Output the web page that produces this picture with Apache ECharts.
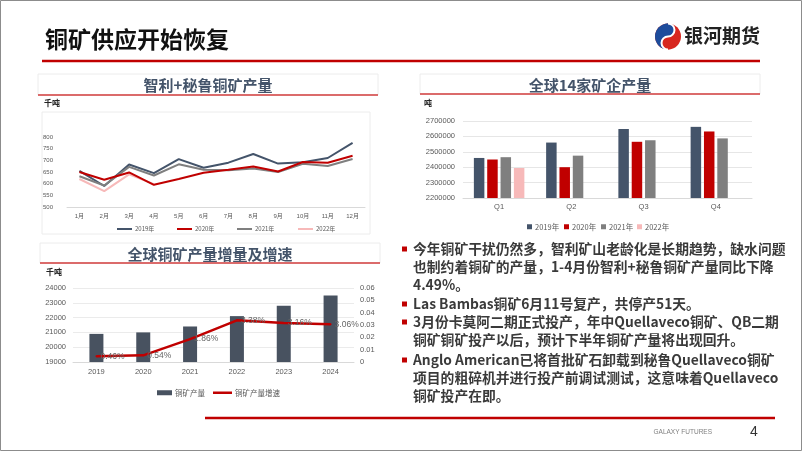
<!DOCTYPE html>
<html>
<head>
<meta charset="utf-8">
<script src="https://cdn.jsdelivr.net/npm/echarts@6/dist/echarts.min.js"></script>
<style>
html, body { margin: 0; padding: 0; background: #fff; }
#main { width: 802px; height: 451px; }
</style>
</head>
<body>
<div id="main"></div>
<script>
// 智利+秘鲁铜矿产量（千吨）
var months = ['1月', '2月', '3月', '4月', '5月', '6月', '7月', '8月', '9月', '10月', '11月', '12月']
var cp2019 = [655, 590, 682, 645, 705, 668, 690, 727, 686, 692, 710, 775]
var cp2020 = [650, 617, 648, 595, 620, 647, 660, 674, 652, 693, 690, 720]
var cp2021 = [632, 592, 672, 635, 683, 660, 657, 665, 650, 685, 676, 706]
var cp2022 = [620, 568, 640, 598]

// 全球14家矿企产量（吨）
var quarters = ['Q1', 'Q2', 'Q3', 'Q4']
var mine2019 = [2460000, 2560000, 2648000, 2662000]
var mine2020 = [2450000, 2400000, 2565000, 2632000]
var mine2021 = [2465000, 2475000, 2575000, 2587000]
var mine2022 = [2395000, null, null, null]

// 全球铜矿产量增量及增速
var years = ['2019', '2020', '2021', '2022', '2023', '2024']
var globalOutput = [20900, 21000, 21400, 22100, 22800, 23500]
var globalGrowth = [0.0046, 0.0054, 0.0186, 0.0338, 0.0316, 0.0306]

var bulletLines = [
  { text: '今年铜矿干扰仍然多，智利矿山老龄化是长期趋势，缺水问题', bullet: true },
  { text: '也制约着铜矿的产量，1-4月份智利+秘鲁铜矿产量同比下降', bullet: false },
  { text: '4.49%。', bullet: false },
  { text: 'Las Bambas铜矿6月11号复产，共停产51天。', bullet: true },
  { text: '3月份卡莫阿二期正式投产，年中Quellaveco铜矿、QB二期', bullet: true },
  { text: '铜矿铜矿投产以后，预计下半年铜矿产量将出现回升。', bullet: false },
  { text: 'Anglo American已将首批矿石卸载到秘鲁Quellaveco铜矿', bullet: true },
  { text: '项目的粗碎机并进行投产前调试测试，这意味着Quellaveco', bullet: false },
  { text: '铜矿投产在即。', bullet: false }
]
var bulletY = [249, 267, 285, 304, 322, 340, 360, 378, 396]

var FONT = '"Liberation Sans", "Noto Sans CJK SC", sans-serif'
var CJK = '"Noto Sans CJK SC", sans-serif'
var SLATE = '#44546A'
var RED = '#C00000'
var GREY = '#7F7F7F'
var PINK = '#F7B9B9'
var LABEL = '#595959'

function txt (x, y, s, font, fill, align, valign) {
  return {
    type: 'text',
    silent: true,
    style: {
      text: s, x: x, y: y, font: font, fill: fill,
      textAlign: align || 'left', textVerticalAlign: valign || 'middle'
    }
  }
}
function hline (x1, x2, y, color, w) {
  return { type: 'line', silent: true, shape: { x1: x1, y1: y, x2: x2, y2: y }, style: { stroke: color, lineWidth: w } }
}
function titleBox (x1, x2, yTop, yLine, title) {
  return [
    { type: 'rect', silent: true, shape: { x: x1, y: yTop, width: x2 - x1, height: yLine - yTop }, style: { fill: '#fff', stroke: '#ececec', lineWidth: 1 } },
    hline(x1, x2, yLine, '#D23C3C', 1.5),
    txt((x1 + x2) / 2, (yTop + yLine) / 2 + 1, title, 'bold 15px ' + CJK, SLATE, 'center')
  ]
}

var graphics = []
// 页面边框
graphics.push({ type: 'rect', silent: true, shape: { x: 0.5, y: 0.5, width: 801, height: 450 }, style: { fill: 'none', stroke: '#8c8c8c', lineWidth: 1 } })
// 标题
graphics.push(txt(45, 39, '铜矿供应开始恢复', 'bold 23px ' + CJK, '#111', 'left'))
graphics.push(hline(42, 760, 61, '#C00000', 2.5))
// logo
graphics.push({ type: 'circle', silent: true, shape: { cx: 668, cy: 36.5, r: 13 }, style: { fill: '#D7261E' } })
graphics.push({ type: 'sector', silent: true, shape: { cx: 668, cy: 36.5, r: 13, startAngle: Math.PI * 0.5, endAngle: Math.PI * 1.5 }, style: { fill: '#1D4C9C' } })
graphics.push({ type: 'circle', silent: true, shape: { cx: 668, cy: 30, r: 6.5 }, style: { fill: '#1D4C9C' } })
graphics.push({ type: 'circle', silent: true, shape: { cx: 668, cy: 43, r: 6.5 }, style: { fill: '#D7261E' } })
graphics.push({ type: 'arc', silent: true, shape: { cx: 668, cy: 30, r: 6.5, startAngle: -Math.PI / 2, endAngle: Math.PI / 2, clockwise: true }, style: { stroke: '#fff', lineWidth: 2, fill: 'none' } })
graphics.push({ type: 'arc', silent: true, shape: { cx: 668, cy: 43, r: 6.5, startAngle: -Math.PI / 2, endAngle: Math.PI / 2, clockwise: false }, style: { stroke: '#fff', lineWidth: 2, fill: 'none' } })
graphics.push(txt(684, 36, '银河期货', 'bold 19px ' + CJK, '#222', 'left'))

// 图表标题框
graphics = graphics.concat(titleBox(38, 378, 74, 95, '智利+秘鲁铜矿产量'))
graphics = graphics.concat(titleBox(420, 760, 74, 94, '全球14家矿企产量'))
graphics = graphics.concat(titleBox(40, 380, 243, 263, '全球铜矿产量增量及增速'))
// 单位
graphics.push(txt(44, 103, '千吨', 'bold 8px ' + CJK, '#222', 'left'))
graphics.push(txt(424, 103, '吨', 'bold 8px ' + CJK, '#222', 'left'))
graphics.push(txt(46, 272, '千吨', 'bold 8px ' + CJK, '#222', 'left'))
// 折线图区域框
graphics.push({ type: 'rect', silent: true, shape: { x: 42, y: 112, width: 328, height: 122 }, style: { fill: 'none', stroke: '#ececec', lineWidth: 1 } })

// 要点文字
bulletLines.forEach(function (l, i) {
  if (l.bullet) {
    graphics.push({ type: 'rect', silent: true, shape: { x: 402, y: bulletY[i] - 2.5, width: 5, height: 5 }, style: { fill: '#C00000' } })
  }
  graphics.push(txt(413, bulletY[i], l.text, 'bold 13.8px ' + CJK, '#3a3a3a', 'left'))
})

// 页脚
graphics.push(hline(205, 775, 418, '#C00000', 2.5))
graphics.push(txt(712, 432, 'GALAXY FUTURES', '6.5px ' + FONT, '#7f7f7f', 'right'))
graphics.push(txt(750, 432, '4', '14px ' + FONT, '#333', 'left'))

var axisLabelStyle = function (size, margin) {
  return { color: LABEL, fontSize: size, fontFamily: FONT, margin: margin, formatter: function (v) { return String(v) } }
}
var smallLegend = function (left, top, name, w, h, size) {
  return {
    left: left, top: top, itemWidth: w, itemHeight: h, itemGap: 3,
    textStyle: { fontSize: size, color: LABEL, fontFamily: CJK, padding: [0, 0, 0, -2] },
    data: [{ name: name, icon: 'rect' }]
  }
}

var chart = echarts.init(document.getElementById('main'))
chart.setOption({
  animation: false,
  backgroundColor: '#fff',
  graphic: { elements: graphics },
  grid: [
    { left: 67, top: 137, width: 298, height: 70 },
    { left: 463, top: 121, width: 289, height: 77 },
    { left: 73, top: 288, width: 281, height: 74 }
  ],
  legend: [
    smallLegend(112, 221, '2019年', 15, 2, 6),
    smallLegend(172, 221, '2020年', 15, 2, 6),
    smallLegend(232, 221, '2021年', 15, 2, 6),
    smallLegend(293, 221, '2022年', 15, 2, 6),
    smallLegend(522, 218, 'Q2019年', 5, 5, 7.5),
    smallLegend(559, 218, 'Q2020年', 5, 5, 7.5),
    smallLegend(596, 218, 'Q2021年', 5, 5, 7.5),
    smallLegend(632, 218, 'Q2022年', 5, 5, 7.5),
    smallLegend(152, 384, '铜矿产量', 15, 5, 7.5),
    smallLegend(208, 384, '铜矿产量增速', 19, 2.5, 7.5)
  ].map(function (l) {
    if (l.data[0].name.charAt(0) === 'Q') l.formatter = function (n) { return n.slice(1) }
    return l
  }),
  xAxis: [
    { type: 'category', gridIndex: 0, data: months, axisTick: { show: false }, axisLine: { lineStyle: { color: '#d9d9d9' } }, axisLabel: axisLabelStyle(6, 6) },
    { type: 'category', gridIndex: 1, data: quarters, axisTick: { show: false }, axisLine: { lineStyle: { color: '#d9d9d9' } }, axisLabel: axisLabelStyle(7.5, 5) },
    { type: 'category', gridIndex: 2, data: years, axisTick: { show: false }, axisLine: { lineStyle: { color: '#d9d9d9' } }, axisLabel: axisLabelStyle(7.5, 6) }
  ],
  yAxis: [
    { type: 'value', gridIndex: 0, min: 500, max: 800, interval: 50, splitLine: { show: false }, axisLine: { show: false }, axisTick: { show: false }, axisLabel: axisLabelStyle(6, 14) },
    { type: 'value', gridIndex: 1, min: 2200000, max: 2700000, interval: 100000, splitLine: { lineStyle: { color: '#e6e6e6' } }, axisLine: { show: false }, axisTick: { show: false }, axisLabel: axisLabelStyle(7.5, 8) },
    { type: 'value', gridIndex: 2, min: 19000, max: 24000, interval: 1000, splitLine: { lineStyle: { color: '#ebebeb' } }, axisLine: { show: false }, axisTick: { show: false }, axisLabel: axisLabelStyle(7.5, 7) },
    { type: 'value', gridIndex: 2, position: 'right', min: 0, max: 0.06, interval: 0.01, splitLine: { show: false }, axisLine: { show: false }, axisTick: { show: false }, axisLabel: axisLabelStyle(7.5, 6) }
  ],
  series: [
    { name: '2019年', type: 'line', xAxisIndex: 0, yAxisIndex: 0, data: cp2019, symbol: 'none', color: SLATE, lineStyle: { width: 2 } },
    { name: '2021年', type: 'line', xAxisIndex: 0, yAxisIndex: 0, data: cp2021, symbol: 'none', color: GREY, lineStyle: { width: 2 } },
    { name: '2022年', type: 'line', xAxisIndex: 0, yAxisIndex: 0, data: cp2022, symbol: 'none', color: PINK, lineStyle: { width: 2 } },
    { name: '2020年', type: 'line', xAxisIndex: 0, yAxisIndex: 0, data: cp2020, symbol: 'none', color: RED, lineStyle: { width: 2 } },

    { name: 'Q2019年', type: 'bar', xAxisIndex: 1, yAxisIndex: 1, data: mine2019, color: SLATE, barWidth: 10.5, barGap: '27%' },
    { name: 'Q2020年', type: 'bar', xAxisIndex: 1, yAxisIndex: 1, data: mine2020, color: RED, barWidth: 10.5, barGap: '27%' },
    { name: 'Q2021年', type: 'bar', xAxisIndex: 1, yAxisIndex: 1, data: mine2021, color: GREY, barWidth: 10.5, barGap: '27%' },
    { name: 'Q2022年', type: 'bar', xAxisIndex: 1, yAxisIndex: 1, data: mine2022, color: PINK, barWidth: 10.5, barGap: '27%' },

    { name: '铜矿产量', type: 'bar', xAxisIndex: 2, yAxisIndex: 2, data: globalOutput, color: '#485260', barWidth: 14 },
    {
      name: '铜矿产量增速', type: 'line', xAxisIndex: 2, yAxisIndex: 3, z: 5, data: globalGrowth, symbol: 'circle', symbolSize: 2, showSymbol: true, color: RED, lineStyle: { width: 2.5 },
      label: { show: true, position: 'right', distance: 3, color: '#666', fontSize: 8.5, fontFamily: FONT, formatter: function (p) { return (p.value * 100).toFixed(2) + '%' } },
      labelLayout: { hideOverlap: false }
    }
  ]
})
</script>
</body>
</html>
